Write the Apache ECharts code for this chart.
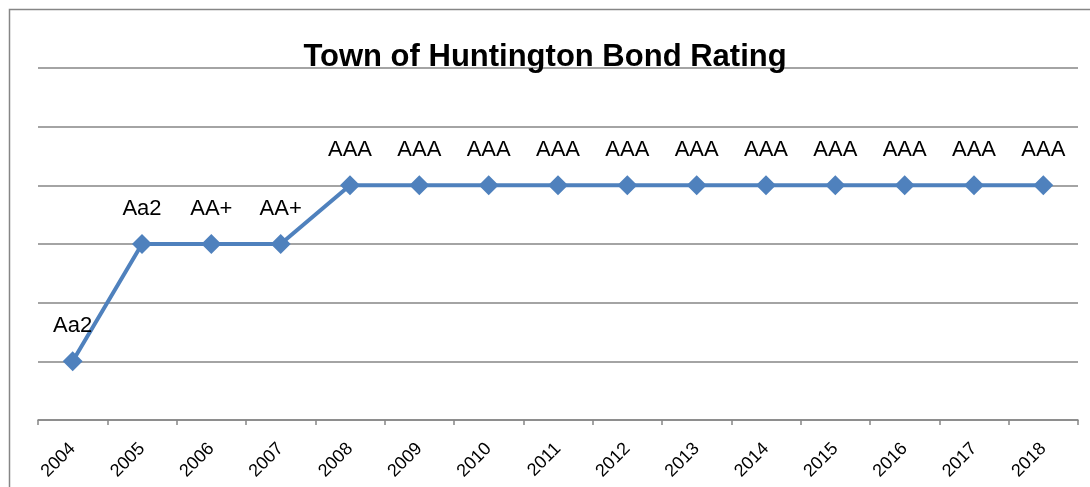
<!DOCTYPE html>
<html>
<head>
<meta charset="utf-8">
<script src="https://cdn.jsdelivr.net/npm/echarts@6/dist/echarts.min.js"></script>
<style>
  html, body { margin: 0; padding: 0; background: #fff; }
  #chart { width: 1090px; height: 487px; }
</style>
</head>
<body>
<div id="chart"></div>
<script>
// years on the x axis
var years = ['2004', '2005', '2006', '2007', '2008', '2009', '2010', '2011',
  '2012', '2013', '2014', '2015', '2016', '2017', '2018']
// plotted level of each rating (no y labels shown in the original)
var levels = [1, 3, 3, 3, 4, 4, 4, 4, 4, 4, 4, 4, 4, 4, 4]
// rating text shown above each point
var ratings = ['Aa2', 'Aa2', 'AA+', 'AA+', 'AAA', 'AAA', 'AAA', 'AAA',
  'AAA', 'AAA', 'AAA', 'AAA', 'AAA', 'AAA', 'AAA']

var chart = echarts.init(document.getElementById('chart'))

var font = '"Liberation Sans", Arial, sans-serif'

chart.setOption({
  backgroundColor: '#fff',
  animation: false,
  title: {
    text: 'Town of Huntington Bond Rating',
    left: 'center',
    top: 37,
    textStyle: {
      fontFamily: font,
      fontSize: 31,
      fontWeight: 'bold',
      color: '#000'
    }
  },
  graphic: [
    {
      type: 'rect',
      shape: { x: 9.5, y: 9.5, width: 1100, height: 500 },
      style: { fill: 'none', stroke: '#868686', lineWidth: 1.5 },
      silent: true,
      z: -1
    }
  ],
  grid: {
    left: 38,
    right: 12,
    top: 68,
    bottom: 67
  },
  xAxis: {
    type: 'category',
    data: years,
    boundaryGap: true,
    axisLine: { lineStyle: { color: '#868686', width: 1.5 } },
    axisTick: { show: true, length: 5, lineStyle: { color: '#868686', width: 1.5 } },
    axisLabel: {
      rotate: 45,
      margin: 26,
      fontFamily: font,
      fontSize: 18,
      color: '#000'
    }
  },
  yAxis: {
    type: 'value',
    min: 0,
    max: 6,
    interval: 1,
    axisLine: { show: false },
    axisTick: { show: false },
    axisLabel: { show: false },
    splitLine: { lineStyle: { color: '#868686', width: 1.5 } }
  },
  series: [
    {
      type: 'line',
      data: levels,
      symbol: 'diamond',
      symbolSize: 20,
      lineStyle: { color: '#4F81BD', width: 4 },
      itemStyle: { color: '#4F81BD' },
      label: {
        show: true,
        position: 'top',
        distance: 14,
        fontFamily: font,
        fontSize: 22,
        color: '#000',
        formatter: function (p) {
          return ratings[p.dataIndex]
        }
      }
    }
  ]
})
</script>
</body>
</html>
